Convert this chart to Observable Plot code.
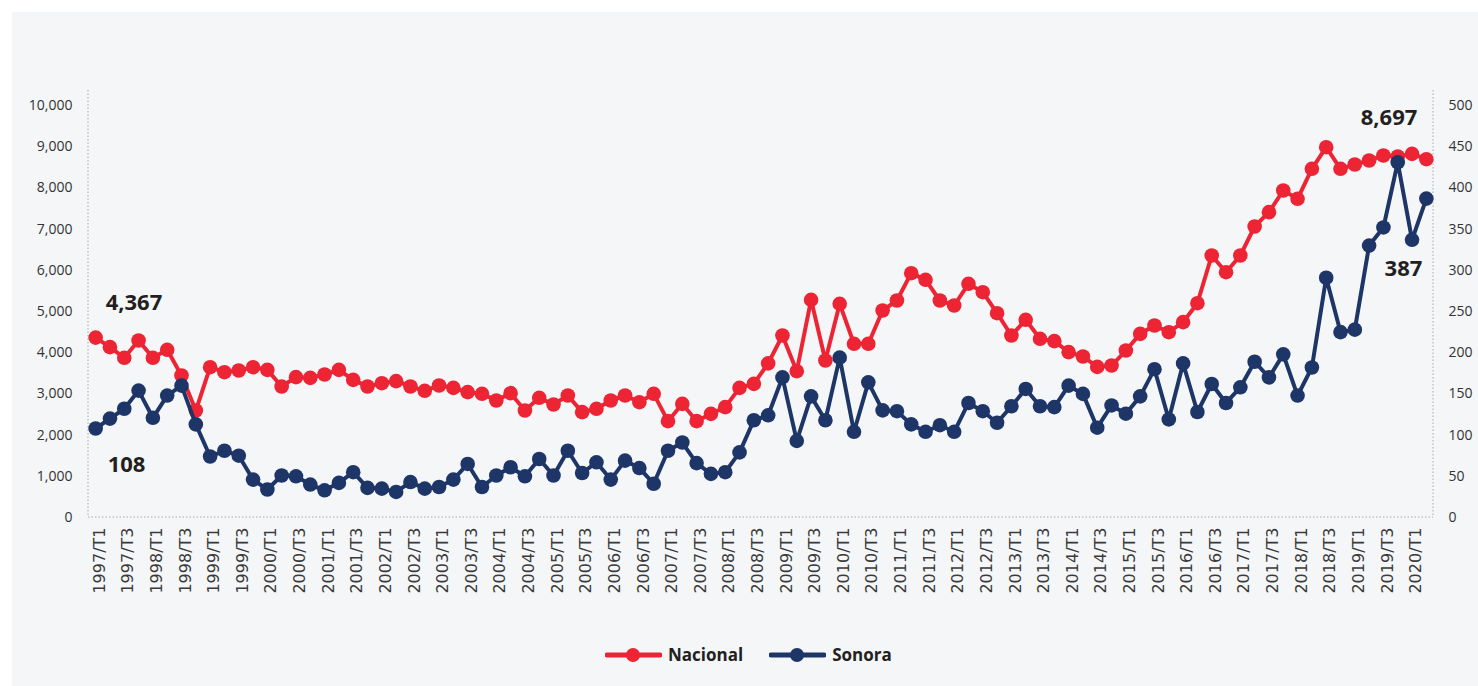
<!DOCTYPE html>
<html>
<head>
<meta charset="utf-8">
<script src="https://cdn.jsdelivr.net/npm/d3@7"></script>
<script src="https://cdn.jsdelivr.net/npm/@observablehq/plot@0.6"></script>
<style>
  html, body { margin: 0; padding: 0; background: #ffffff; width: 1478px; height: 686px; overflow: hidden; }
  #panel { position: absolute; left: 12px; top: 12px; width: 1466px; height: 674px; background: #f4f6f8; }
  #chart { position: absolute; left: 0; top: 0; }
  #legend { position: absolute; left: 605px; top: 643px; display: flex; align-items: center; font-family: "Open Sans", sans-serif; font-weight: 700; font-size: 17px; color: #231f20; }
  .item { display: flex; align-items: center; margin-right: 26px; }
  .item svg { margin-right: 6px; }
</style>
</head>
<body>
<div id="panel"></div>
<div id="chart"></div>
<div id="legend"></div>
<script>
// ---- data ----
const years = d3.range(1997, 2021);
const quarterNames = ["T1", "T2", "T3", "T4"];
const quarters = [];
for (const y of years) for (const q of quarterNames) quarters.push(`${y}/${q}`);
quarters.splice(quarters.indexOf("2020/T2") + 1); // last quarter: 2020/T2

const nacional = [4367,4135,3876,4296,3876,4070,3447,2597,3648,3527,
  3568,3648,3584,3180,3406,3390,3471,3584,3341,3180,
  3260,3309,3180,3075,3204,3147,3042,3002,2840,3018,
  2597,2905,2743,2961,2557,2638,2840,2961,2799,3002,
  2338,2759,2338,2516,2678,3147,3244,3740,4417,3551,
  5284,3811,5187,4216,4216,5024,5267,5930,5769,5267,
  5146,5672,5469,4959,4417,4798,4337,4280,4013,3908,
  3655,3689,4053,4458,4660,4498,4741,5202,6359,5954,
  6359,7063,7411,7937,7735,8463,8988,8463,8568,8665,
  8786,8762,8827,8697];

const sonora = [108,120,132,154,121,148,160,113,74,81,
  75,46,34,51,50,40,33,42,55,36,
  35,31,43,35,37,46,65,37,51,61,
  50,71,51,81,54,67,46,69,60,41,
  81,91,66,53,55,79,118,124,170,93,
  147,118,194,104,164,130,129,113,104,112,
  104,139,129,115,135,156,135,134,160,150,
  109,136,126,147,180,119,187,128,162,139,
  158,189,170,198,148,182,291,225,228,330,
  352,431,337,387];

const leftTicks = [0,1000,2000,3000,4000,5000,6000,7000,8000,9000,10000];
const xTickLabels = quarters.filter(q => q.endsWith("T1") || q.endsWith("T3"));
const ratio = 20; // right axis (Sonora) = left axis / 20

const seriesNames = ["Nacional", "Sonora"];
const RED = "#ec2434";
const BLUE = "#1d3567";

// annotations: first and last values
const annLabels = ["4,367", "108", "8,697", "387"];
const annQuarter = ["1997/T1", "1997/T1", "2020/T2", "2020/T2"];
const annSeries = ["Nacional", "Sonora", "Nacional", "Sonora"];

// ---- build ----
const data = quarters.map((q, i) => ({ q, nac: nacional[i], son: sonora[i] }));
const ann = annLabels.map((label, i) => {
  const idx = quarters.indexOf(annQuarter[i]);
  const v = annSeries[i] === "Nacional" ? nacional[idx] : sonora[idx] * ratio;
  return { label, q: annQuarter[i], v };
});
const annStyle = [
  { dx: 10, dy: -35, anchor: "start" },
  { dx: 12, dy: 36, anchor: "start" },
  { dx: -9, dy: -41, anchor: "end" },
  { dx: -4, dy: 70, anchor: "end" }
];

const frameLines = (index, scales, values, dims) => {
  const g = d3.create("svg:g")
    .attr("stroke", "#a8a8a8")
    .attr("stroke-width", 1)
    .attr("stroke-dasharray", "1.5,2")
    .attr("fill", "none");
  const x0 = dims.marginLeft, x1 = dims.width - dims.marginRight;
  const yb = scales.y(0), yt = dims.marginTop - 15;
  g.append("line").attr("x1", x0).attr("x2", x0).attr("y1", yt).attr("y2", yb);
  g.append("line").attr("x1", x1).attr("x2", x1).attr("y1", yt).attr("y2", yb);
  g.append("line").attr("x1", x0).attr("x2", x1).attr("y1", yb).attr("y2", yb);
  return g.node();
};

const chart = Plot.plot({
  width: 1478,
  height: 630,
  marginLeft: 88,
  marginRight: 45,
  marginTop: 105,
  marginBottom: 113,
  style: { background: "transparent", fontFamily: "'Open Sans', sans-serif", fontSize: "14px", color: "#333" },
  x: { type: "point", domain: quarters, padding: 0.5, round: false },
  y: { domain: [0, 10000] },
  marks: [
    frameLines,
    Plot.axisY({ ticks: leftTicks, tickFormat: d3.format(","), tickSize: 0, tickPadding: 16, label: null, fontSize: 14 }),
    Plot.axisY({ anchor: "right", ticks: leftTicks, tickFormat: d => d / ratio, tickSize: 0, tickPadding: 15, label: null, fontSize: 14 }),
    Plot.axisX({ ticks: xTickLabels, tickRotate: -90, tickSize: 0, tickPadding: 10, dx: 4, label: null, fontSize: 16, fontFamily: "DejaVu Sans", fill: "#3a3a3a" }),
    Plot.line(data, { x: "q", y: "nac", stroke: RED, strokeWidth: 4 }),
    Plot.dot(data, { x: "q", y: "nac", r: 7.3, fill: RED }),
    Plot.line(data, { x: "q", y: d => d.son * ratio, stroke: BLUE, strokeWidth: 4 }),
    Plot.dot(data, { x: "q", y: d => d.son * ratio, r: 7.3, fill: BLUE }),
    ...ann.map((a, i) => Plot.text([a], {
      x: "q", y: "v", text: "label",
      dx: annStyle[i].dx, dy: annStyle[i].dy, textAnchor: annStyle[i].anchor,
      fontSize: 22, fontWeight: 700, fill: "#231f20"
    }))
  ]
});
document.getElementById("chart").appendChild(chart);

// legend
const legend = document.getElementById("legend");
[RED, BLUE].forEach((c, i) => {
  const item = document.createElement("div");
  item.className = "item";
  item.innerHTML = `<svg width="57" height="16"><line x1="2" x2="55" y1="8" y2="8" stroke="${c}" stroke-width="5" stroke-linecap="round"/><circle cx="28" cy="8" r="7" fill="${c}"/></svg><span>${seriesNames[i]}</span>`;
  legend.appendChild(item);
});
</script>
</body>
</html>
